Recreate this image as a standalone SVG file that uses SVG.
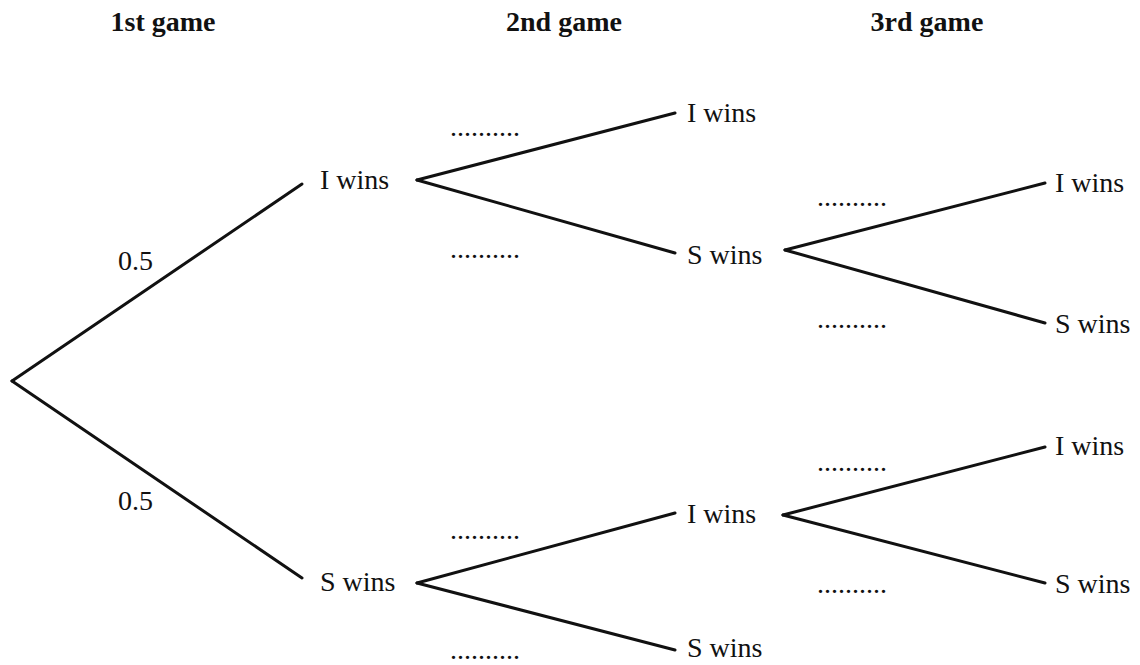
<svg xmlns="http://www.w3.org/2000/svg" width="1140" height="665" viewBox="0 0 1140 665">
<style>
.h{font-family:"Liberation Serif","Times New Roman",serif;font-size:28px;font-weight:bold;fill:#111;text-anchor:middle}
.t{font-family:"Liberation Serif","Times New Roman",serif;font-size:28px;fill:#111}
.d{font-family:"Liberation Serif","Times New Roman",serif;font-size:28px;fill:#111}
.e{stroke:#111;stroke-width:3;fill:none;stroke-linecap:round}
</style>
<rect width="1140" height="665" fill="#fff"/>
<g id="headers">
<text class="h" x="163" y="31">1st game</text>
<text class="h" x="564" y="31">2nd game</text>
<text class="h" x="927" y="31">3rd game</text>
</g>
<g id="connectors">
<line class="e" x1="12" y1="381" x2="302" y2="184"/>
<line class="e" x1="12" y1="381" x2="302" y2="578"/>
<line class="e" x1="417" y1="180" x2="675" y2="113"/>
<line class="e" x1="417" y1="180" x2="675" y2="253"/>
<line class="e" x1="785" y1="250" x2="1045" y2="183"/>
<line class="e" x1="785" y1="250" x2="1045" y2="323"/>
<line class="e" x1="417" y1="583" x2="675" y2="513"/>
<line class="e" x1="417" y1="583" x2="675" y2="650"/>
<line class="e" x1="783" y1="515" x2="1045" y2="447"/>
<line class="e" x1="783" y1="515" x2="1045" y2="583"/>
</g>
<g id="edge-labels">
<text class="t" x="118" y="270">0.5</text>
<text class="t" x="118" y="510">0.5</text>
<text class="d" x="450" y="136">..........</text>
<text class="d" x="450" y="258">..........</text>
<text class="d" x="817" y="206">..........</text>
<text class="d" x="817" y="328">..........</text>
<text class="d" x="450" y="539">..........</text>
<text class="d" x="450" y="659">..........</text>
<text class="d" x="817" y="471">..........</text>
<text class="d" x="817" y="593">..........</text>
</g>
<g id="n1-I"><text class="t" x="320" y="189">I wins</text></g>
<g id="n1-S"><text class="t" x="320" y="591">S wins</text></g>
<g id="n2-II"><text class="t" x="687" y="122">I wins</text></g>
<g id="n2-IS"><text class="t" x="687" y="264">S wins</text></g>
<g id="n2-SI"><text class="t" x="687" y="523">I wins</text></g>
<g id="n2-SS"><text class="t" x="687" y="657">S wins</text></g>
<g id="n3-ISI"><text class="t" x="1055" y="192">I wins</text></g>
<g id="n3-ISS"><text class="t" x="1055" y="333">S wins</text></g>
<g id="n3-SII"><text class="t" x="1055" y="455">I wins</text></g>
<g id="n3-SIS"><text class="t" x="1055" y="593">S wins</text></g>
</svg>
